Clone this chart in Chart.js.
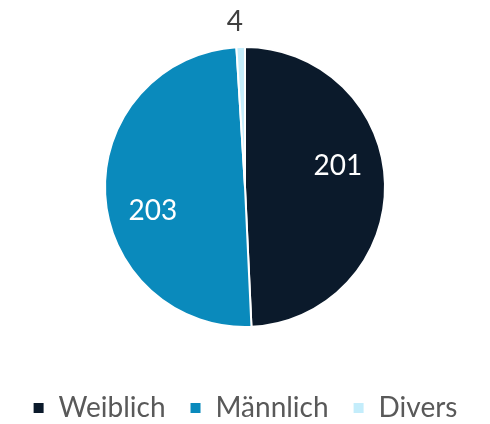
<!DOCTYPE html>
<html>
<head>
<meta charset="utf-8">
<script src="https://cdn.jsdelivr.net/npm/chart.js@4.4.1/dist/chart.umd.min.js"></script>
<style>
  html, body { margin: 0; padding: 0; background: #fff; }
  #wrap { width: 490px; height: 424px; }
</style>
</head>
<body>
<div id="wrap"><canvas id="pie"></canvas></div>
<script>
const categories = ['Weiblich', 'Männlich', 'Divers'];
const counts = [201, 203, 4];
const sliceColors = ['#0b1a2b', '#0a8abc', '#c4edfb'];

// value labels: inside slices for the big ones, outside for the tiny one
const valueLabels = {
  id: 'valueLabels',
  afterDatasetsDraw(chart) {
    const ctx = chart.ctx;
    const meta = chart.getDatasetMeta(0);
    ctx.save();
    ctx.font = '28px Lato';
    ctx.textAlign = 'center';
    ctx.textBaseline = 'middle';
    meta.data.forEach((arc, i) => {
      const p = arc.getProps(['x', 'y', 'startAngle', 'endAngle', 'outerRadius']);
      const share = (p.endAngle - p.startAngle) / (Math.PI * 2);
      let a, r;
      if (share < 0.05) {
        a = (p.startAngle + p.endAngle) / 2 - 0.03;
        r = p.outerRadius + 25;
        ctx.fillStyle = '#404040';
      } else {
        a = (p.startAngle + p.endAngle) / 2 - 0.2;
        r = p.outerRadius * 0.68;
        ctx.fillStyle = '#ffffff';
      }
      ctx.fillText(String(counts[i]), p.x + Math.cos(a) * r, p.y + Math.sin(a) * r);
    });
    ctx.restore();
  }
};

new Chart(document.getElementById('pie'), {
  type: 'pie',
  data: {
    labels: categories,
    datasets: [{
      data: counts,
      backgroundColor: sliceColors,
      borderColor: '#ffffff',
      borderWidth: 2,
      radius: 140
    }]
  },
  options: {
    responsive: true,
    maintainAspectRatio: false,
    animation: false,
    layout: { padding: { top: 4, bottom: -8 } },
    plugins: {
      tooltip: { enabled: false },
      legend: {
        position: 'bottom',
        labels: {
          boxWidth: 12,
          boxHeight: 12,
          padding: 24,
          color: '#595959',
          font: { family: 'Lato', size: 28 }
        }
      }
    }
  },
  plugins: [valueLabels]
});
</script>
</body>
</html>
